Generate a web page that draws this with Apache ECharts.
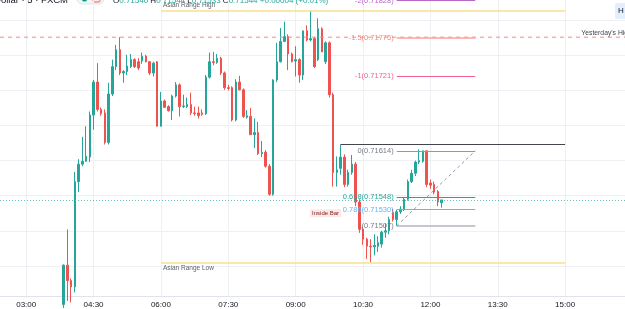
<!DOCTYPE html>
<html><head><meta charset="utf-8">
<script src="https://cdn.jsdelivr.net/npm/echarts@6/dist/echarts.min.js"></script>
<style>html,body{margin:0;padding:0;background:#fff}#c{width:625px;height:309px}</style>
</head><body><div id="c"></div>
<script>
// ---- data ----
const axisStart = '02:25', axisEnd = '16:20', stepMin = 5;
const xTickLabels = ['03:00','04:30','06:00','07:30','09:00','10:30','12:00','13:30','15:00'];
const yGridLevels = [0.7145, 0.7150, 0.7155, 0.7160, 0.7165, 0.7170, 0.7175, 0.7180];
const yMin = 0.71407, yMax = 0.71829;

const firstCandle = '03:50';
const opens = [0.71395,0.71451,0.71429,0.71420,0.71570,0.71595,0.71599,0.71605,0.71665,0.71712,
0.71673,0.71668,0.71626,0.71695,0.71734,0.71758,0.71725,0.71727,0.71734,0.71744,
0.71741,0.71742,0.71749,0.71741,0.71725,0.71741,0.71649,0.71685,0.71677,0.71671,
0.71692,0.71708,0.71677,0.71677,0.71680,0.71668,0.71668,0.71668,0.71667,0.71719,
0.71741,0.71740,0.71746,0.71725,0.71704,0.71704,0.71658,0.71712,0.71701,0.71662,
0.71663,0.71637,0.71640,0.71610,0.71612,0.71592,0.71552,0.71715,0.71741,0.71770,
0.71777,0.71752,0.71742,0.71744,0.71722,0.71785,0.71772,0.71774,0.71744,0.71788,
0.71741,0.71768,0.71694,0.71583,0.71589,0.71605,0.71566,0.71583,0.71595,0.71541,
0.71502,0.71488,0.71478,0.71477,0.71478,0.71481,0.71498,0.71500,0.71526,0.71516,
0.71527,0.71531,0.71545,0.71570,0.71582,0.71598,0.71599,0.71614,0.71568,0.71566,
0.71556,0.71540];
const highs = [0.71452,0.71502,0.71432,0.71584,0.71602,0.71634,0.71649,0.71670,0.71715,0.71739,
0.71676,0.71673,0.71711,0.71744,0.71765,0.71776,0.71729,0.71751,0.71752,0.71746,
0.71746,0.71754,0.71751,0.71742,0.71741,0.71742,0.71698,0.71687,0.71679,0.71694,
0.71712,0.71710,0.71694,0.71690,0.71697,0.71677,0.71677,0.71673,0.71722,0.71754,
0.71755,0.71752,0.71748,0.71727,0.71708,0.71706,0.71716,0.71721,0.71703,0.71672,
0.71675,0.71660,0.71655,0.71628,0.71615,0.71595,0.71716,0.71768,0.71789,0.71798,
0.71780,0.71754,0.71763,0.71746,0.71785,0.71793,0.71814,0.71776,0.71803,0.71790,
0.71770,0.71770,0.71697,0.71606,0.71623,0.71609,0.71587,0.71608,0.71598,0.71545,
0.71506,0.71490,0.71488,0.71495,0.71492,0.71500,0.71510,0.71520,0.71531,0.71530,
0.71535,0.71548,0.71573,0.71587,0.71600,0.71616,0.71614,0.71614,0.71573,0.71570,
0.71558,0.71544];
const lows = [0.71390,0.71400,0.71398,0.71412,0.71555,0.71592,0.71598,0.71598,0.71644,0.71670,
0.71664,0.71623,0.71623,0.71692,0.71729,0.71722,0.71711,0.71722,0.71732,0.71732,
0.71729,0.71738,0.71740,0.71722,0.71720,0.71649,0.71649,0.71675,0.71670,0.71658,
0.71690,0.71663,0.71675,0.71675,0.71665,0.71664,0.71660,0.71664,0.71665,0.71717,
0.71736,0.71738,0.71722,0.71701,0.71700,0.71656,0.71656,0.71700,0.71661,0.71660,
0.71637,0.71618,0.71608,0.71605,0.71590,0.71550,0.71550,0.71712,0.71740,0.71769,
0.71729,0.71740,0.71720,0.71711,0.71715,0.71770,0.71770,0.71732,0.71742,0.71755,
0.71738,0.71690,0.71563,0.71563,0.71580,0.71562,0.71563,0.71580,0.71535,0.71497,
0.71480,0.71460,0.71455,0.71465,0.71470,0.71476,0.71490,0.71495,0.71513,0.71507,
0.71524,0.71528,0.71543,0.71568,0.71578,0.71595,0.71597,0.71562,0.71560,0.71552,
0.71535,0.71533];
const closes = [0.71451,0.71429,0.71420,0.71570,0.71595,0.71599,0.71606,0.71665,0.71712,0.71673,
0.71667,0.71626,0.71695,0.71734,0.71758,0.71725,0.71727,0.71735,0.71744,0.71734,
0.71732,0.71749,0.71741,0.71725,0.71739,0.71649,0.71685,0.71676,0.71671,0.71692,
0.71708,0.71677,0.71678,0.71680,0.71668,0.71667,0.71664,0.71666,0.71719,0.71741,
0.71740,0.71746,0.71725,0.71704,0.71703,0.71658,0.71712,0.71701,0.71663,0.71664,
0.71637,0.71640,0.71610,0.71612,0.71592,0.71552,0.71715,0.71741,0.71770,0.71777,
0.71752,0.71741,0.71744,0.71722,0.71785,0.71772,0.71774,0.71734,0.71788,0.71755,
0.71768,0.71694,0.71583,0.71587,0.71605,0.71566,0.71583,0.71595,0.71541,0.71502,
0.71488,0.71478,0.71477,0.71479,0.71483,0.71498,0.71500,0.71516,0.71516,0.71527,
0.71531,0.71545,0.71570,0.71582,0.71598,0.71600,0.71614,0.71566,0.71565,0.71555,
0.71541,0.71544];

const yesterdayHigh = 0.71776;
const lastClose = 0.71544;
const asianHigh = 0.71814, asianLow = 0.71455, asianFrom = '06:00', asianTo = '15:00';
const insideBarHigh = 0.71623, insideBarFrom = '10:00', insideBarTo = '15:00';
const insideBarLabelAt = ['09:40', 0.71525];
const fibFrom = '11:15', fibTo = '13:00';
const fibLevels = ['-2', '-1.5', '-1', '0', '0.618', '0.786', '1'];
const fibPrices = [0.71828, 0.71775, 0.71721, 0.71614, 0.71548, 0.71530, 0.71507];
const headerSymbol = 'U.S. Dollar · 5 · FXCM';
const headerOHLC = [['O','0.71540'],['H','0.71544'],['L','0.71533'],['C','0.71544'],['','+0.00004'],['','(+0.01%)']];

// ---- styles ----
const fibColors = ['#ba68c8', '#f6a49c', '#f06292', '#9598a1', '#26a69a', '#64b5f6', '#b2b5be'];
const fibLabelColors = ['#ba68c8', '#f28b82', '#f06292', '#787b86', '#26a69a', '#64b5f6', '#787b86'];
const fibWidths = [1, 1.6, 1, 1, 1, 1, 1.6];
const FONT = '"Liberation Sans", Arial, sans-serif';

// ---- build ----
function toMin(s){const [h,m]=s.split(':').map(Number);return h*60+m;}
function fmt(m){return String(Math.floor(m/60)).padStart(2,'0')+':'+String(m%60).padStart(2,'0');}
const categories = [];
for (let m = toMin(axisStart); m <= toMin(axisEnd); m += stepMin) categories.push(fmt(m));
const startIdx = categories.indexOf(firstCandle);
const candleData = opens.map((o,i)=>[categories[startIdx+i], o, closes[i], lows[i], highs[i]]);
function fullWidth(v){ return [{coord:[axisStart, v]}, {coord:[axisEnd, v]}]; }

const overlayLines = [
  [{coord:[asianFrom, asianHigh], lineStyle:{color:'#f7e08a', width:1.5, type:'solid'},
    label:{show:true, position:'insideStartTop', formatter:'Asian Range High', color:'#5d606b', fontSize:6.5, fontFamily:FONT, distance:2}},
   {coord:[asianTo, asianHigh]}],
  [{coord:[asianFrom, asianLow], lineStyle:{color:'#f7e08a', width:1.5, type:'solid'},
    label:{show:true, position:'insideStartBottom', formatter:'Asian Range Low', color:'#5d606b', fontSize:6.5, fontFamily:FONT, distance:2}},
   {coord:[asianTo, asianLow]}],
  [{coord:[insideBarFrom, insideBarHigh], lineStyle:{color:'#434651', width:1, type:'solid'}, label:{show:false}},
   {coord:[insideBarTo, insideBarHigh]}],
];
fibLevels.forEach((lvl,i)=>{
  overlayLines.push([
    {coord:[fibFrom, fibPrices[i]], lineStyle:{color:fibColors[i], width:fibWidths[i], type:'solid'},
     label:{show:true, position:'start', formatter: lvl+'('+fibPrices[i].toFixed(5)+')', color:fibLabelColors[i],
            fontSize:7.5, fontFamily:FONT, distance:3, padding:[0,0, i===0?14:9, 0]}},
    {coord:[fibTo, fibPrices[i]]}
  ]);
});
overlayLines.push([
  {coord:[fibFrom, fibPrices[6]], lineStyle:{color:'#9598a1', width:1, type:[3,3]}, label:{show:false}},
  {coord:[fibTo, fibPrices[3]]}
]);

const rich = {k:{fill:'#131722'}, v:{fill:'#26a69a'}};
const ohlcText = headerOHLC.map(([k,v])=> (k?'{k|'+k+'}':'')+'{v|'+v+'}').join(' ');

const chart = echarts.init(document.getElementById('c'), null, {renderer:'canvas'});
chart.setOption({
  animation:false,
  backgroundColor:'#ffffff',
  grid:{left:0, right:0, top:0, bottom:12},
  xAxis:{type:'category', data:categories, boundaryGap:false,
    axisLine:{lineStyle:{color:'#e0e3eb'}}, axisTick:{show:false},
    axisLabel:{interval:(i,v)=>xTickLabels.includes(v), color:'#131722', fontSize:8, fontFamily:FONT, margin:5},
    splitLine:{show:true, interval:(i,v)=>xTickLabels.includes(v), lineStyle:{color:'#eef0f4', width:1}}},
  yAxis:{type:'value', min:yMin, max:yMax, show:false, splitLine:{show:false}},
  series:[
    {type:'line', data:[], silent:true, z:0,
      markLine:{z:0, silent:true, symbol:'none', animation:false, label:{show:false},
        lineStyle:{color:'#eef0f4', width:1, type:'solid'}, data: yGridLevels.map(v=>fullWidth(v))}},
    {type:'line', silent:true, z:4, showSymbol:false, symbol:'none', color:'#f28b82',
      data:[[axisStart, yesterdayHigh], [axisEnd, yesterdayHigh]],
      lineStyle:{color:'#f28b82', width:1, type:[4,4]}},
    {type:'line', data:[], silent:true, z:1, color:'#4db6ac',
      markLine:{z:4, silent:true, symbol:'none', animation:false, label:{show:false},
        lineStyle:{color:'#4db6ac', width:1, type:[1,2], opacity:0.85}, data:[fullWidth(lastClose)]}},
    {type:'candlestick', z:3, barWidth:2, encode:{x:0, y:[1,2,3,4]}, data:candleData,
      itemStyle:{color:'#26a69a', color0:'#ef5350', borderColor:'#26a69a', borderColor0:'#ef5350', borderWidth:1},
      markLine:{silent:true, symbol:'none', animation:false, data:overlayLines},
      markPoint:{silent:true, animation:false, data:[
        {coord:insideBarLabelAt, symbol:'circle', symbolSize:0,
          label:{show:true, position:'inside', formatter:'Inside Bar', color:'#7b1f1f', fontSize:6, fontFamily:FONT,
                 backgroundColor:'rgba(252,214,214,0.55)', padding:[1,2]}},
        {coord:['15:15', yesterdayHigh], symbol:'circle', symbolSize:0,
          label:{show:true, position:'right', formatter:"Yesterday's High", color:'#434651', fontSize:6.8, fontFamily:FONT, offset:[0,-4]}}
      ]}}
  ],
  graphic:[
    {type:'text', x:68, y:5, style:{text:headerSymbol, font:'9.5px '+FONT, fill:'#131722', align:'right', verticalAlign:'bottom'}},
    {type:'rect', shape:{x:77, y:-7, width:27, height:11, r:5}, style:{fill:'#eef7f5', stroke:'#d9ece8'}},
    {type:'circle', shape:{cx:84.5, cy:-1, r:2.6}, style:{fill:'#089981'}},
    {type:'rect', shape:{x:93, y:-5, width:7, height:7, r:1.5}, style:{fill:'#fde8ea', stroke:'#f23645', lineWidth:0.8}},
    {type:'text', x:113, y:5, style:{text:ohlcText, rich:rich, font:'8px '+FONT, fill:'#26a69a', verticalAlign:'bottom'}},
    {type:'rect', shape:{x:615, y:3, width:20, height:16, r:2}, style:{fill:'#e3effd'}},
    {type:'text', x:618, y:11, style:{text:'H', font:'8px '+FONT, fill:'#131722', verticalAlign:'middle'}}
  ]
});
</script></body></html>
